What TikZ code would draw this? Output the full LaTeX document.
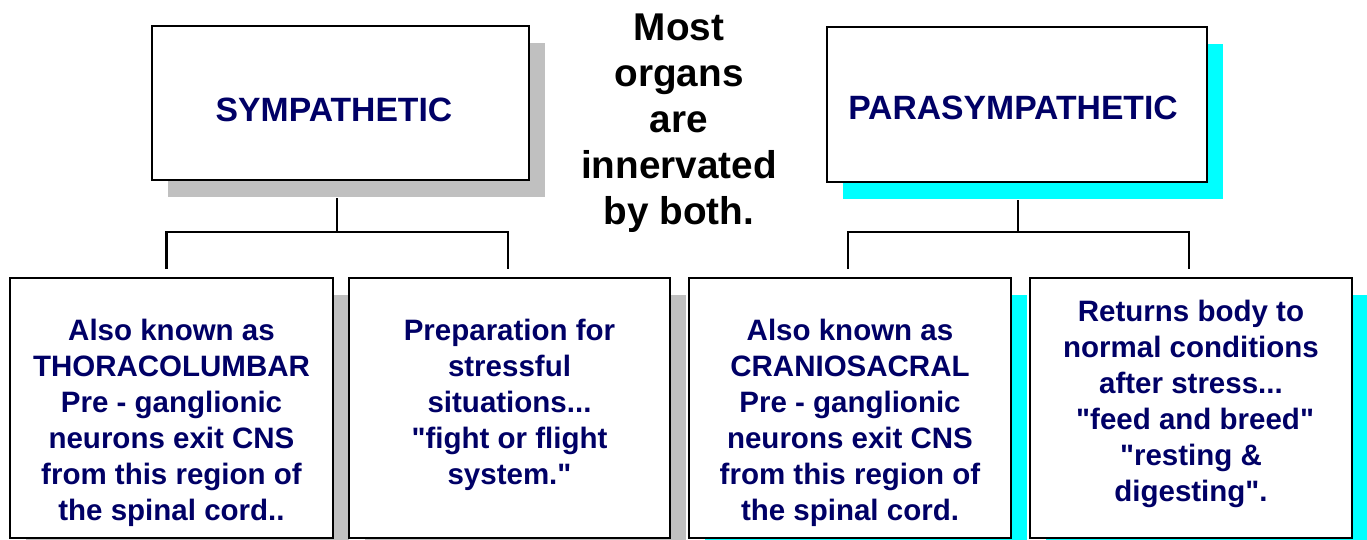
\documentclass[tikz,border=0pt]{standalone}
\usepackage{fontspec}
\setmainfont{Liberation Sans}[Ligatures=TeXOff]
\usetikzlibrary{shadows}
\definecolor{navy}{RGB}{0,0,102}
\definecolor{shgrey}{RGB}{192,192,192}
\definecolor{shcyan}{RGB}{0,255,255}
\tikzset{
  box/.style={draw=black, line width=2pt, fill=white, inner sep=0pt},
  greyshadow/.style={drop shadow={shadow xshift=16pt, shadow yshift=-17pt, fill=shgrey, opacity=1}},
  cyanshadow/.style={drop shadow={shadow xshift=16pt, shadow yshift=-17pt, fill=shcyan, opacity=1}},
  title/.style={text=navy, font=\bfseries\fontsize{33.7}{40}\selectfont},
  body/.style={text=navy, align=center, font=\bfseries\fontsize{29.5}{36}\selectfont},
  mid/.style={text=black, align=center, font=\bfseries\fontsize{38.7}{46}\selectfont},
  conn/.style={draw=black, line width=2.6pt}
}
\begin{document}
\begin{tikzpicture}[x=1pt,y=-1pt]
\useasboundingbox (0,0) rectangle (1367,539);
% top boxes
\node[box, greyshadow, minimum width=377pt, minimum height=154pt] (symp) at (340.5,103) {};
\node[title] (sympt) at (334,110) {SYMPATHETIC};
\node[box, cyanshadow, minimum width=380pt, minimum height=155pt] (para) at (1017,104.5) {};
\node[title] (parat) at (1013,108) {PARASYMPATHETIC};
% middle text
\node[mid] (both) at (679,123.5) {Most\\organs\\are\\innervated\\by both.};
% bottom boxes
\node[box, greyshadow, minimum width=323pt, minimum height=260pt] (b1) at (171.5,408) {};
\node[body] (t1) at (171.5,423) {Also known as\\THORACOLUMBAR\\Pre - ganglionic\\neurons exit CNS\\from this region of\\the spinal cord..};
\node[box, greyshadow, minimum width=321pt, minimum height=260pt] (b2) at (509.5,408) {};
\node[body] (t2) at (509.5,405) {Preparation for\\stressful\\situations...\\"fight or flight\\system."};
\node[box, cyanshadow, minimum width=322pt, minimum height=260pt] (b3) at (850,408) {};
\node[body] (t3) at (850,423) {Also known as\\CRANIOSACRAL\\Pre - ganglionic\\neurons exit CNS\\from this region of\\the spinal cord.};
\node[box, cyanshadow, minimum width=322pt, minimum height=260pt] (b4) at (1191,408) {};
\node[body] (t4) at (1191,403.5) {Returns body to\\normal conditions\\after stress...\\\ "feed and breed"\\"resting \&\\digesting".};
% connectors
\coordinate (sj) at (337,232);
\coordinate (pj) at (1018,232);
\draw[conn] ([yshift=-17pt]symp.south -| sj) -- (sj);
\draw[conn] ([xshift=-5pt,yshift=8pt]b1.north) |- ([xshift=-1.5pt]b2.north |- sj) -- ([xshift=-1.5pt,yshift=8pt]b2.north);
\draw[conn] ([yshift=-17pt]para.south -| pj) -- (pj);
\draw[conn] ([xshift=-2pt,yshift=8pt]b3.north) |- ([xshift=-2pt]b4.north |- pj) -- ([xshift=-2pt,yshift=8pt]b4.north);
\end{tikzpicture}
\end{document}
